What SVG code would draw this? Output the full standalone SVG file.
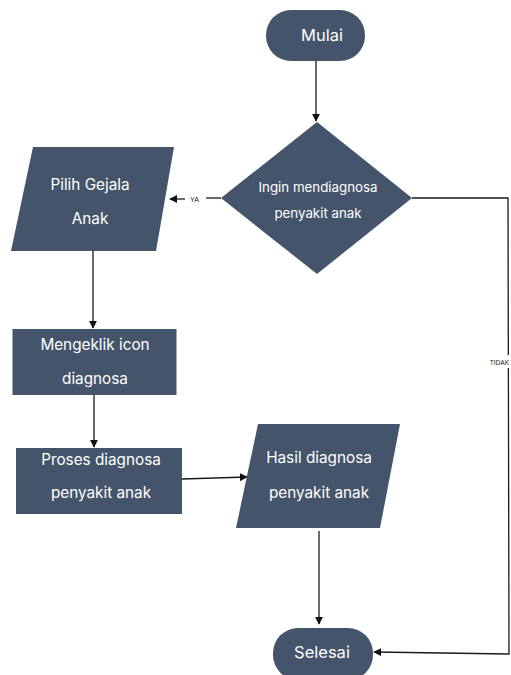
<svg xmlns="http://www.w3.org/2000/svg" width="511" height="675" viewBox="0 0 511 675">
<style>
.n{fill:#44546a;}
.t{fill:#ffffff;font-family:Inter,"Open Sans",sans-serif;font-size:15.3px;text-anchor:middle;}
.ts{fill:#ffffff;font-family:Inter,"Open Sans",sans-serif;font-size:13.3px;text-anchor:middle;}
.c{fill:none;stroke:#1a1a1a;stroke-width:1.3;}
.l{fill:#222;font-family:"Liberation Sans",Arial,sans-serif;font-size:7px;}
</style>
<defs>
<marker id="a" viewBox="0 0 10 10" refX="9" refY="5" markerWidth="8" markerHeight="8" markerUnits="userSpaceOnUse" orient="auto">
<path d="M0,0 L10,5 L0,10 z" fill="#111"/>
</marker>
</defs>
<rect width="511" height="675" fill="#ffffff"/>
<g id="connectors">
<line class="c" x1="316" y1="61" x2="316" y2="121" marker-end="url(#a)"/>
<line class="c" x1="221" y1="198" x2="206" y2="198"/>
<line class="c" x1="185" y1="199" x2="170" y2="199" marker-end="url(#a)"/>
<text class="l" x="190" y="201.5">YA</text>
<line class="c" x1="93" y1="251" x2="93" y2="328" marker-end="url(#a)"/>
<line class="c" x1="94" y1="395" x2="94" y2="447" marker-end="url(#a)"/>
<line class="c" x1="182" y1="479" x2="247" y2="477" marker-end="url(#a)"/>
<line class="c" x1="319" y1="531" x2="319" y2="624" marker-end="url(#a)"/>
<polyline class="c" points="412,198 508,198 509,654 374,652" marker-end="url(#a)"/>
<rect x="487" y="355" width="24" height="13" fill="#ffffff"/>
<text class="l" x="509" y="365" text-anchor="end" style="font-size:6.5px">TIDAK</text>
</g>
<g id="mulai">
<rect class="n" x="266" y="10" width="99" height="51" rx="25" ry="25"/>
<text class="t" x="322" y="41" style="font-size:16.5px">Mulai</text>
</g>
<g id="decision">
<polygon class="n" points="317,122 412,198 317,274 221,198"/>
<text class="ts" x="318" y="192">Ingin mendiagnosa</text>
<text class="ts" x="318" y="218">penyakit anak</text>
</g>
<g id="pilih">
<polygon class="n" points="33,147 174,147 156,251 11,251"/>
<text class="t" x="90" y="190">Pilih Gejala</text>
<text class="t" x="90" y="224">Anak</text>
</g>
<g id="mengeklik">
<rect class="n" x="12.5" y="329" width="164" height="66"/>
<text class="t" x="95" y="350">Mengeklik icon</text>
<text class="t" x="95" y="384">diagnosa</text>
</g>
<g id="proses">
<rect class="n" x="16" y="448" width="166" height="66"/>
<text class="t" x="101" y="465">Proses diagnosa</text>
<text class="t" x="101" y="498">penyakit anak</text>
</g>
<g id="hasil">
<polygon class="n" points="258,424 400,424 380,528 236,528"/>
<text class="t" x="319" y="463">Hasil diagnosa</text>
<text class="t" x="319" y="498">penyakit anak</text>
</g>
<g id="selesai">
<rect class="n" x="273" y="628" width="100" height="52" rx="25" ry="25"/>
<text class="t" x="322" y="658" style="font-size:16.5px">Selesai</text>
</g>
</svg>
